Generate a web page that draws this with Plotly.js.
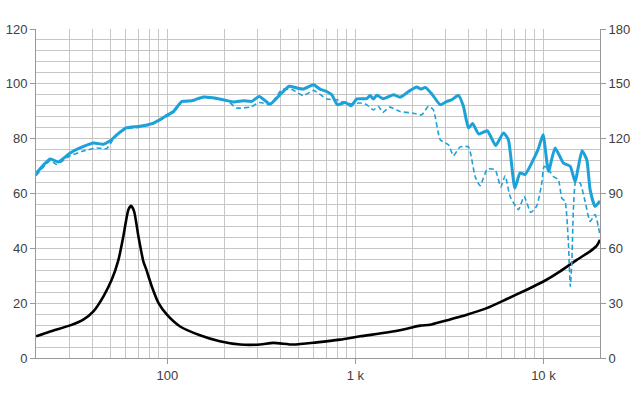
<!DOCTYPE html>
<html>
<head>
<meta charset="utf-8">
<script src="https://cdn.plot.ly/plotly-3.0.1.min.js"></script>
<style>html,body{margin:0;padding:0;background:#fff;}#chart{width:640px;height:400px;}</style>
</head>
<body>
<div id="chart"></div>
<script>
// On-axis SPL (solid)
const freqSolid = [20,23.8,26.3,30.4,34.3,40.4,45.7,49.6,53.8,60.3,71.4,84.3,99.4,107.6,119.5,134.6,155.6,190,
  224,254,281,308,352,397,444,488,528,598,648,704,749,802,882,948,1018,1148,1197,1246,1300,1409,1596,1730,1958,2120,
  2228,2354,2550,2827,3062,3256,3533,3754,3993,4200,4530,5030,5571,6130,6512,7050,7516,7980,9360,9960,10640,11540,
  12776,13900,14740,16040,17010,17716,18830,20000];
const splSolid = [67.3,72.6,71.5,74.8,76.6,78.4,78.0,79.2,81.4,83.9,84.5,85.7,88.5,89.9,93.6,93.8,95.2,94.5,
  93.4,93.8,93.6,95.4,92.6,96.0,99.1,98.5,98.1,99.7,98.1,97.2,96.0,92.4,93.2,92.0,94.5,94.6,95.7,94.5,95.8,94.6,96.0,95.1,97.6,98.8,
  98.1,98.7,96.3,92.4,93.6,94.2,95.8,91.8,83.9,85.5,81.7,82.9,77.5,82.1,79.6,62.0,67.5,66.9,76.0,81.4,68.1,76.6,
  71.1,69.9,64.4,75.6,72.3,61.4,55.3,57.3];

// Off-axis SPL (dashed)
const freqDash = [20,23.8,25.8,30.4,35.7,42.1,47.6,50.6,53.8,60.3,71.4,84.3,99.4,107.6,119.5,134.6,155.6,190,
  210,233,275,311,352,406,459,528,598,704,802,882,957,1059,1148,1246,1325,1399,1517,1730,2034,2254,2445,2599,
  2827,3124,3322,3606,3993,4332,4605,5030,5534,5935,6255,6652,7362,7896,8570,9224,9804,10084,10640,11302,12014,
  12526,13042,13582,13900,14158,14440,14870,15680,16666,17716,18830,19900];
const splDash = [66.5,72.0,70.6,73.8,75.5,76.6,76.4,79.0,81.2,83.6,84.2,85.4,88.2,89.6,93.4,93.6,95.0,94.3,
  93.6,91.2,91.5,93.2,92.4,97.9,97.9,95.7,97.6,94.5,94.2,93.0,92.7,93.0,92.4,90.5,91.8,89.6,91.5,89.9,89.3,88.7,91.8,90.5,
  79.6,77.8,73.8,77.0,77.0,66.2,62.8,68.9,68.7,62.4,66.5,58.9,54.1,58.9,53.1,55.5,63.8,69.9,68.7,66.2,65.0,
  58.3,57.1,41.9,26.1,34.6,54.1,64.4,63.8,57.1,49.8,52.3,45.6];

// Impedance (black)
const freqImp = [20,23.8,30.4,35.7,40.4,45.7,50.6,54.9,58.3,62.0,64.1,66.5,70.1,74.5,77.0,82.6,89.6,99.4,116.8,149,190,
  244,311,366,468,623,829,1059,1468,1876,2208,2496,2938,3912,4998,6386,8158,9998,12268,15046,17716,19228,20000];
const imp = [7.9,9.7,11.9,14.0,17.0,22.5,28.6,35.8,44.4,54.1,55.5,53.5,44.4,35.2,32.5,26.1,20.1,15.8,11.5,8.3,6.1,
  4.9,4.9,5.5,4.9,5.7,6.7,7.9,9.3,10.7,11.8,12.1,13.4,15.8,18.2,21.5,24.9,27.9,31.6,35.8,38.9,41.0,43.1];

const xTickVals = [100, 1000, 10000];
const xTickText = ['100', '1 k', '10 k'];
const minorX = [];
[10, 100, 1000, 10000].forEach(d => { for (let m = 1; m <= 9; m++) { const v = m * d; if (v >= 20 && v <= 20000 && [100,1000,10000].indexOf(v) < 0) minorX.push(v); } });

const blue = '#1da1d9';
const gridC = '#c6c6c6';
const fontC = '#404040';

const traces = [
  {x: freqImp, y: imp, type: 'scatter', mode: 'lines', line: {color: '#000', width: 2.6, shape: 'spline', smoothing: 0.6}, hoverinfo: 'skip'},
  {x: freqDash, y: splDash, type: 'scatter', mode: 'lines', line: {color: blue, width: 1.6, dash: '5px,3px', shape: 'spline', smoothing: 0.5}, hoverinfo: 'skip'},
  {x: freqSolid, y: splSolid, type: 'scatter', mode: 'lines', line: {color: blue, width: 3, shape: 'spline', smoothing: 0.5}, hoverinfo: 'skip'},
  {x: [20, 20000], y: [0, 0], yaxis: 'y2', type: 'scatter', mode: 'lines', line: {width: 0}, showlegend: false, hoverinfo: 'skip'}
];

const layout = {
  width: 640, height: 400,
  margin: {l: 36, r: 40, t: 29, b: 42},
  paper_bgcolor: '#fff', plot_bgcolor: '#fff',
  showlegend: false,
  font: {family: 'Liberation Sans, Arial, sans-serif', size: 13, color: fontC},
  xaxis: {
    type: 'log', range: [Math.log10(20), Math.log10(20000)],
    tickmode: 'array', tickvals: xTickVals, ticktext: xTickText,
    ticks: 'outside', ticklen: 5, tickcolor: '#999',
    showgrid: true, gridcolor: gridC, gridwidth: 1,
    minor: {tickmode: 'array', tickvals: minorX, showgrid: true, gridcolor: gridC, gridwidth: 1, ticks: ''},
    showline: true, linecolor: '#999', linewidth: 1,
    zeroline: false, fixedrange: true
  },
  yaxis: {
    range: [0, 120], tickmode: 'linear', tick0: 0, dtick: 20,
    ticks: 'outside', ticklen: 5, tickcolor: '#999',
    showgrid: true, gridcolor: gridC, gridwidth: 1,
    minor: {tickmode: 'linear', tick0: 0, dtick: 4, showgrid: true, gridcolor: gridC, gridwidth: 1, ticks: ''},
    showline: true, linecolor: '#999', linewidth: 1,
    zeroline: false, fixedrange: true
  },
  yaxis2: {
    range: [0, 180], tickmode: 'linear', tick0: 0, dtick: 30,
    overlaying: 'y', side: 'right',
    ticks: 'outside', ticklen: 5, tickcolor: '#999',
    showgrid: false, showline: true, linecolor: '#999', linewidth: 1,
    zeroline: false, fixedrange: true
  }
};

Plotly.newPlot('chart', traces, layout, {displayModeBar: false, staticPlot: true});
</script>
</body>
</html>
